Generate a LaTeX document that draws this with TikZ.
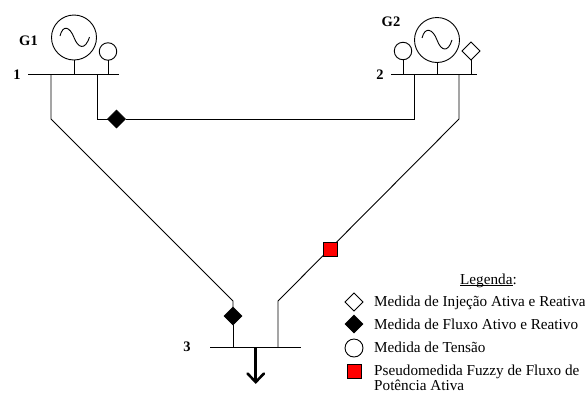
\documentclass[tikz,border=0pt]{standalone}
\usepackage{fontspec}
\setmainfont{Liberation Serif}
\usetikzlibrary{shapes.geometric,arrows.meta}
\tikzset{
  wire/.style={draw=black,line width=0.9pt},
  bus/.style={draw=black,line width=0.95pt},
  gen/.style={circle,draw=black,line width=0.9pt,minimum size=45pt,inner sep=0pt,outer sep=0pt},
  volt/.style={circle,draw=black,line width=0.9pt,minimum size=17.5pt,inner sep=0pt,outer sep=0pt},
  inj/.style={diamond,draw=black,line width=0.8pt,fill=white,minimum size=18pt,inner sep=0pt,outer sep=0pt},
  flow/.style={diamond,draw=black,fill=black,minimum size=18pt,inner sep=0pt,outer sep=0pt},
  fuzzy/.style={rectangle,draw=black,line width=0.8pt,fill=red,minimum size=14pt,inner sep=0pt,outer sep=0pt},
  busnum/.style={font=\bfseries\fontsize{14.5}{16}\selectfont,inner sep=0pt},
  legtext/.style={font=\fontsize{15.2}{17}\selectfont,anchor=base west,inner sep=0pt},
}
\begin{document}
\begin{tikzpicture}[x=1pt,y=-1pt]
\useasboundingbox (0,0) rectangle (585,394);
% buses
\coordinate (b1l) at (28,74); \coordinate (b1r) at (119,74);
\coordinate (b2l) at (391,74); \coordinate (b2r) at (477,74);
\coordinate (b3l) at (210,347); \coordinate (b3r) at (301,347);
\draw[bus] (b1l) -- (b1r);
\draw[bus] (b2l) -- (b2r);
\draw[bus] (b3l) -- (b3r);
% generators and meters
\node[gen] (g1) at (74,37.5) {};
\node[gen] (g2) at (437,40) {};
\node[volt] (v1) at (108,51.5) {};
\node[volt] (v2) at (403,51) {};
\node[inj] (i2) at (471,51) {};
\draw[wire] (g1.south) -- (74,74);
\draw[wire] (v1.south) -- (108,74);
\draw[wire] (g2.south) -- (437,74);
\draw[wire] (v2.south) -- (403,74);
\draw[wire] (i2.south) -- (471,74);
% sine waves
\draw[wire] (60,36) .. controls (63,24) and (70,27) .. (74,37.5) .. controls (78,48) and (85,51) .. (89.5,37);
\draw[wire] (422,38) .. controls (425,26) and (433,29) .. (437,40) .. controls (441,51) and (448,53) .. (452,40);
% lines
\coordinate (a1) at (51,74); \coordinate (a2) at (51,119); \coordinate (a3) at (233,301);
\coordinate (c1) at (97,74); \coordinate (c2) at (97,119); \coordinate (c3) at (414,119); \coordinate (c4) at (414,74);
\coordinate (d1) at (459,74); \coordinate (d2) at (459,119); \coordinate (d3) at (278,301); \coordinate (d4) at (278,347);
\coordinate (e1) at (233,347);
\node[flow] (f13) at (233,316) {};
\node[flow] (f12) at (116.5,119) {};
\draw[wire] (a1) -- (a2) -- (a3) -- (f13.north);
\draw[wire] (f13.south) -- (e1);
\draw[wire] (c1) -- (c2) -- (f12.west);
\draw[wire] (f12.east) -- (c3) -- (c4);
\draw[wire] (d1) -- (d2) -- (d3) -- (d4);
\node[fuzzy] (p23) at (330.5,249) {};
% load
\coordinate (l1) at (255.7,347); \coordinate (l2) at (255.7,382);
\coordinate (l3) at (247.5,373.5); \coordinate (l4) at (264,373.5);
\draw[line width=3.4pt] (l1) -- (255.7,381);
\draw[line width=2.6pt,line cap=round,line join=miter] (l3) -- (l2) -- (l4);
% labels
\node[busnum] (tg1) at (28.5,41) {G1};
\node[busnum] (t1) at (17,75) {1};
\node[busnum] (tg2) at (391,22) {G2};
\node[busnum] (t2) at (380,75) {2};
\node[busnum] (t3) at (187,347) {3};
% legend
\node[legtext] (lg) at (460,284.5) {\setbox0\hbox{Legenda}\rlap{\vrule width\wd0 height -0.9pt depth 1.6pt}\box0:};
\node[inj] (s1) at (354,302) {};
\node[flow] (s2) at (354,324) {};
\node[volt,minimum size=18pt] (s3) at (354,348) {};
\node[fuzzy] (s4) at (354.5,371) {};
\node[legtext] (x1) at (374,306.5) {Medida de Injeção Ativa e Reativa};
\node[legtext] (x2) at (374,329) {Medida de Fluxo Ativo e Reativo};
\node[legtext] (x3) at (374,352.5) {Medida de Tensão};
\node[legtext] (x4) at (374,375) {Pseudomedida Fuzzy de Fluxo de};
\node[legtext] (x5) at (374,390.5) {Potência Ativa};
\end{tikzpicture}
\end{document}
